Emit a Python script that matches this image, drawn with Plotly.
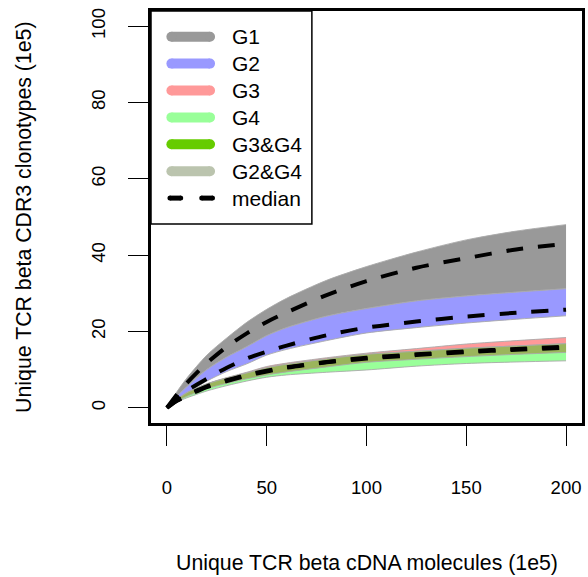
import numpy as np
import plotly.graph_objects as go

# Sequencing depth (unique cDNA molecules, x 1e5)
depth = [0, 5, 10, 20, 30, 40, 50, 60, 80, 100, 125, 150, 175, 200]

# Rarefaction envelopes and medians (unique CDR3 clonotypes, x 1e5)
g1_hi = [0, 4.2, 7.8, 13.8, 18.3, 22.4, 25.8, 28.7, 33.4, 37.0, 40.8, 44.0, 46.3, 48.0]
g1_lo = [0, 3.0, 5.5, 10.0, 13.3, 16.0, 18.9, 21.0, 24.0, 26.0, 28.0, 29.3, 30.3, 31.2]
g1_med = [0, 3.5, 6.5, 11.7, 16.0, 19.5, 22.5, 25.0, 29.5, 33.2, 36.7, 39.2, 41.5, 43.0]

g2_hi = [0, 3.0, 5.5, 10.0, 13.3, 16.0, 18.9, 21.0, 24.0, 26.0, 28.0, 29.3, 30.3, 31.2]
g2_lo = [0, 2.0, 3.8, 7.0, 9.5, 11.5, 13.8, 15.3, 17.6, 19.6, 21.0, 22.2, 23.2, 24.1]
g2_med = [0, 2.5, 4.5, 7.6, 10.5, 12.9, 14.7, 16.3, 19.0, 21.0, 22.6, 23.9, 24.9, 25.7]

g3_hi = [0, 2.2, 4.0, 6.3, 7.9, 9.3, 10.8, 11.7, 13.1, 14.3, 15.5, 16.7, 17.6, 18.4]
g3_lo = [0, 1.7, 3.0, 5.0, 6.4, 7.6, 8.6, 9.4, 10.7, 11.9, 12.7, 13.4, 14.0, 14.5]
g3_med = [0, 1.9, 3.3, 5.6, 7.2, 8.6, 9.7, 10.6, 12.0, 13.1, 14.0, 14.8, 15.4, 16.0]

g4_hi = [0, 2.1, 3.9, 6.2, 7.8, 9.1, 10.5, 11.4, 12.8, 14.0, 14.8, 15.6, 16.2, 16.8]
g4_lo = [0, 1.5, 2.6, 4.4, 5.8, 7.0, 8.0, 8.6, 9.3, 9.9, 10.9, 11.6, 12.0, 12.3]
g4_med = [0, 1.8, 3.1, 5.4, 7.0, 8.4, 9.5, 10.5, 11.9, 12.9, 13.8, 14.6, 15.2, 15.7]

legend_labels = ["G1", "G2", "G3", "G4", "G3&G4", "G2&G4", "median"]
legend_colors = ["#999999", "#9999FF", "#FF9999", "#99FF99", "#66CC00", "#BBC4AE", "black"]
overlap_color = "#9BB55C"
edge_color = "rgba(170,170,170,0.9)"

x_ticks = [0, 50, 100, 150, 200]
y_ticks = [0, 20, 40, 60, 80, 100]

FONT = "Liberation Sans, Arial, sans-serif"
W, H = 588, 577
L, R, T, B = 151, 585, 11, 423

fig = go.Figure()


def band(lo, hi, color, edge=True):
    ln = dict(color=edge_color if edge else color, width=1 if edge else 0,
              shape="spline", smoothing=0.8)
    fig.add_trace(go.Scatter(x=depth, y=lo, mode="lines", line=ln,
                             hoverinfo="skip", showlegend=False))
    fig.add_trace(go.Scatter(x=depth, y=hi, mode="lines", line=ln,
                             fill="tonexty", fillcolor=color,
                             hoverinfo="skip", showlegend=False))


band(g1_lo, g1_hi, legend_colors[0])
band(g2_lo, g2_hi, legend_colors[1])
band(g3_lo, g3_hi, legend_colors[2])
band(g4_lo, g4_hi, legend_colors[3])
# region shared by G3 and G4
ov_lo = np.maximum(g3_lo, g4_lo)
ov_hi = np.minimum(g3_hi, g4_hi)
band(ov_lo, ov_hi, overlap_color, edge=True)

for med in (g1_med, g2_med, g3_med, g4_med):
    fig.add_trace(go.Scatter(
        x=depth, y=med, mode="lines",
        line=dict(color="black", width=4, dash="17px,15px",
                  shape="spline", smoothing=0.8),
        hoverinfo="skip", showlegend=False))


def px(x):
    return (x - L) / (R - L)


def py(y):
    return (B - y) / (B - T)


shapes = []
annotations = []

# legend box
shapes.append(dict(type="rect", xref="paper", yref="paper",
                   x0=px(151), x1=px(313), y0=py(224), y1=py(11),
                   line=dict(color="black", width=1.5), fillcolor="white",
                   layer="above"))
row0, step = 36.7, 26.9
for i, (lab, col) in enumerate(zip(legend_labels, legend_colors)):
    yc = row0 + step * i
    if lab == "median":
        for xa, xb in ((170, 181), (202, 213)):
            shapes.append(dict(type="line", xref="paper", yref="paper",
                               x0=px(xa), x1=px(xb), y0=py(yc), y1=py(yc),
                               line=dict(color="black", width=5), layer="above"))
            for xc in (xa, xb):
                shapes.append(dict(type="circle", xref="paper", yref="paper",
                                   x0=px(xc - 2.5), x1=px(xc + 2.5),
                                   y0=py(yc + 2.5), y1=py(yc - 2.5),
                                   line=dict(width=0), fillcolor="black",
                                   layer="above"))
    else:
        shapes.append(dict(type="line", xref="paper", yref="paper",
                           x0=px(171.5), x1=px(210.5), y0=py(yc), y1=py(yc),
                           line=dict(color=col, width=10), layer="above"))
        for xc in (171.5, 210.5):
            shapes.append(dict(type="circle", xref="paper", yref="paper",
                               x0=px(xc - 5), x1=px(xc + 5),
                               y0=py(yc + 5), y1=py(yc - 5),
                               line=dict(width=0), fillcolor=col,
                               layer="above"))
    annotations.append(dict(text=lab, xref="paper", yref="paper",
                            x=px(231), y=py(yc), xanchor="left",
                            yanchor="middle", showarrow=False,
                            font=dict(family=FONT, size=21, color="black")))

# axis titles
annotations.append(dict(text="Unique TCR beta cDNA molecules (1e5)",
                        xref="paper", yref="paper", x=px(368), y=py(563),
                        xanchor="center", yanchor="middle", showarrow=False,
                        font=dict(family=FONT, size=21.3, color="black")))
annotations.append(dict(text="Unique TCR beta CDR3 clonotypes (1e5)",
                        xref="paper", yref="paper", x=px(23), y=py(217),
                        xanchor="center", yanchor="middle", showarrow=False,
                        textangle=-90,
                        font=dict(family=FONT, size=21.3, color="black")))

axis_common = dict(showgrid=False, zeroline=False, showline=True, mirror=True,
                   linecolor="black", linewidth=2.5, ticks="outside",
                   ticklen=20, tickwidth=1.3, tickcolor="black",
                   tickfont=dict(family=FONT, size=18.5, color="black"))

fig.update_layout(
    width=W, height=H,
    margin=dict(l=L, r=W - R, t=T, b=H - B, pad=0),
    paper_bgcolor="white", plot_bgcolor="white",
    showlegend=False,
    shapes=shapes, annotations=annotations,
    xaxis=dict(range=[-8, 208], tickvals=x_ticks, ticklabelstandoff=26,
               **axis_common),
    yaxis=dict(range=[-4, 104], tickvals=y_ticks, tickangle=-90,
               ticklabelstandoff=16, **axis_common),
)

fig.write_html("out.html")
